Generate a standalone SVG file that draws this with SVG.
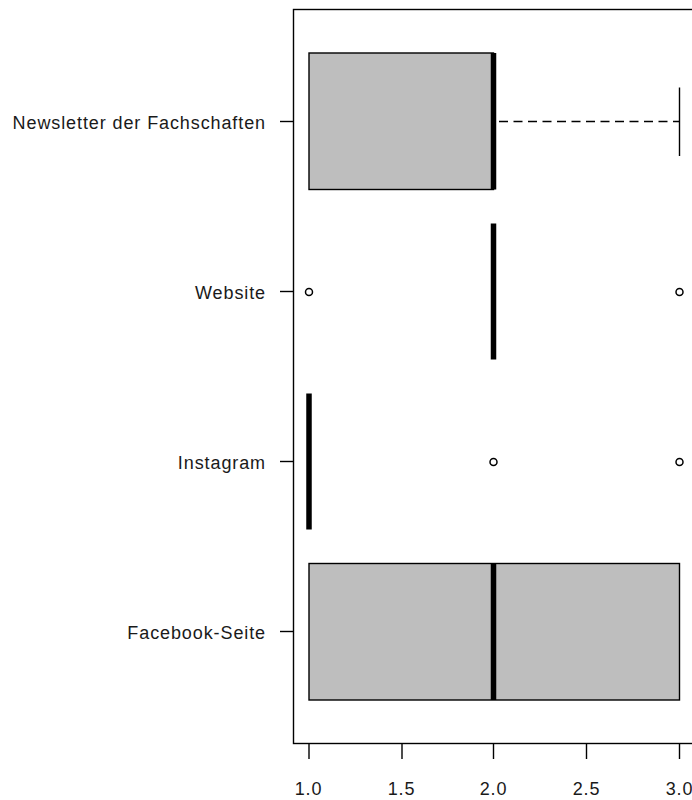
<svg xmlns="http://www.w3.org/2000/svg" width="692" height="800" viewBox="0 0 692 800">
<style>
.lbl{font-family:"Liberation Sans",Arial,sans-serif;font-size:18px;letter-spacing:0.9px;fill:#1a1a1a}
.box{fill:#bebebe;stroke:#000;stroke-width:1.4}
.med{stroke:#000;stroke-width:5.5;stroke-linecap:butt}
.ax{stroke:#000;stroke-width:1.4;fill:none}
.out{fill:none;stroke:#000;stroke-width:1.5}
</style>
<rect width="692" height="800" fill="#fff"/>
<g id="frame">
<rect class="ax" x="293.5" y="9.5" width="401" height="734"/>
</g>
<g id="y-axis">
<line class="ax" x1="280" y1="121.5" x2="293.5" y2="121.5"/>
<line class="ax" x1="280" y1="291.5" x2="293.5" y2="291.5"/>
<line class="ax" x1="280" y1="461.5" x2="293.5" y2="461.5"/>
<line class="ax" x1="280" y1="631.5" x2="293.5" y2="631.5"/>
<text class="lbl" x="266" y="129" text-anchor="end">Newsletter der Fachschaften</text>
<text class="lbl" x="266" y="299" text-anchor="end">Website</text>
<text class="lbl" x="266" y="469" text-anchor="end">Instagram</text>
<text class="lbl" x="266" y="639" text-anchor="end">Facebook-Seite</text>
</g>
<g id="x-axis">
<line class="ax" x1="309" y1="743.5" x2="309" y2="759"/>
<line class="ax" x1="402" y1="743.5" x2="402" y2="759"/>
<line class="ax" x1="493.5" y1="743.5" x2="493.5" y2="759"/>
<line class="ax" x1="586.5" y1="743.5" x2="586.5" y2="759"/>
<line class="ax" x1="679.5" y1="743.5" x2="679.5" y2="759"/>
<text class="lbl" x="308.5" y="795" text-anchor="middle">1.0</text>
<text class="lbl" x="401.5" y="795" text-anchor="middle">1.5</text>
<text class="lbl" x="493.5" y="795" text-anchor="middle">2.0</text>
<text class="lbl" x="586.5" y="795" text-anchor="middle">2.5</text>
<text class="lbl" x="679.5" y="795" text-anchor="middle">3.0</text>
</g>
<g id="connectors">
<line x1="499" y1="121.5" x2="679.5" y2="121.5" stroke="#000" stroke-width="1.5" stroke-dasharray="9,5.5"/>
<line class="ax" x1="679.5" y1="87.5" x2="679.5" y2="156"/>
</g>
<g id="newsletter">
<rect class="box" x="309" y="53" width="184.5" height="136.5"/>
<line class="med" x1="493.5" y1="53" x2="493.5" y2="189.5"/>
</g>
<g id="website">
<line class="med" x1="493.5" y1="223.5" x2="493.5" y2="359.5"/>
<circle class="out" cx="309" cy="292" r="3.5"/>
<circle class="out" cx="679.5" cy="292" r="3.5"/>
</g>
<g id="instagram">
<line class="med" x1="309" y1="393.5" x2="309" y2="529.5"/>
<circle class="out" cx="493.5" cy="462" r="3.5"/>
<circle class="out" cx="679.5" cy="462" r="3.5"/>
</g>
<g id="facebook">
<rect class="box" x="309" y="563.5" width="370.5" height="136.5"/>
<line class="med" x1="493.5" y1="563.5" x2="493.5" y2="700"/>
</g>
</svg>
